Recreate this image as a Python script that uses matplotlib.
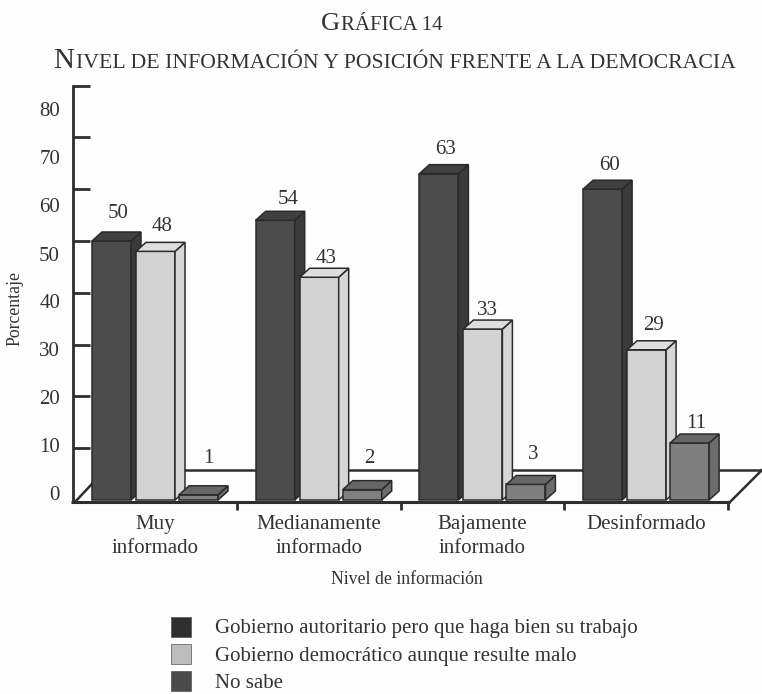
import matplotlib
matplotlib.use('Agg')
import matplotlib.pyplot as plt
from matplotlib.patches import Rectangle

plt.rcParams['font.family'] = ['Liberation Serif', 'DejaVu Serif']

categories = ['Muy\ninformado', 'Medianamente\ninformado', 'Bajamente\ninformado', 'Desinformado']
autoritario = [50, 54, 63, 60]
democratico = [48, 43, 33, 29]
no_sabe = [1, 2, 3, 11]
y_ticks = [0, 10, 20, 30, 40, 50, 60, 70, 80]
legend_labels = ['Gobierno autoritario pero que haga bien su trabajo',
                 'Gobierno democrático aunque resulte malo',
                 'No sabe']

W, H = 762, 694
X0, Y0 = 92, 500      # pixel of category 0 / value 0
SX, SY = 163.7, 5.18  # pixels per category / per percent
TEXT = '#333333'
LINE = '#2e2e2e'

fig = plt.figure(figsize=(W / 100, H / 100), dpi=100, facecolor='#fefefe')
ax = fig.add_axes([0, 0, 1, 1])
ax.set_xlim(-X0 / SX, (W - X0) / SX)
ax.set_ylim((Y0 - H) / SY, Y0 / SY)
ax.axis('off')


def dx(px):
    return px / SX


def dy(px):
    return px / SY


# walls and floor
floor_front = dy(-2)
floor_back = dy(30)
ax.plot([dx(-21), dx(638)], [floor_front, floor_front], color=LINE, lw=2.2, zorder=1, solid_capstyle='butt')
ax.plot([dx(638), dx(670)], [floor_front, floor_back], color=LINE, lw=1.8, zorder=1)
ax.plot([dx(13), dx(670)], [floor_back, floor_back], color=LINE, lw=1.8, zorder=1)
ax.plot([dx(-17), dx(13)], [floor_front, floor_back], color=LINE, lw=1.8, zorder=1)
ax.plot([dx(-19), dx(-19)], [floor_front, 80], color=LINE, lw=2.0, zorder=1)
for v in y_ticks:
    if v > 0:
        ax.plot([dx(-19), dx(-2)], [v, v], color=LINE, lw=2.0, zorder=1, solid_capstyle='butt')
    # the printed labels sit on their own, tighter scale
    ax.text(dx(-32), dy(4) + v * 4.8 / SY, str(v), ha='right', va='center', fontsize=15, color=TEXT)
for i in range(len(categories)):
    tx = i + dx(145)
    ax.plot([tx, tx], [floor_front, dy(-10)], color=LINE, lw=2.0, zorder=1, solid_capstyle='butt')
    ax.text(i + dx(63), dy(-15), categories[i], ha='center', va='top', fontsize=15,
            color=TEXT, linespacing=1.38)

series = [
    (autoritario, 0, '#4c4c4c', '#3a3a3a', '#404040', [27, 21, 24, 24], [7, 13, 7, 7]),
    (democratico, 44, '#d2d2d2', '#d6d6d6', '#dedede', [25, 19, 19, 24], [7, 7, 5, 7]),
    (no_sabe, 87, '#7f7f7f', '#6c6c6c', '#666666', [36, 31, 30, 20], [10, 7, 7, 7]),
]
bar_w = dx(39)
depth_x = dx(10)
depth_y = dy(9)
for i in range(len(categories)):
    for values, off, front, side, top, lab_y, lab_x in series:
        v = values[i]
        x = i + dx(off)
        ax.bar(x, v, width=bar_w, align='edge', color=front, edgecolor='#2a2a2a', lw=1.1, zorder=3)
        ax.fill([x + bar_w, x + bar_w + depth_x, x + bar_w + depth_x, x + bar_w],
                [0, depth_y, v + depth_y, v], facecolor=side, edgecolor='#2a2a2a', lw=1.1, zorder=3)
        ax.fill([x, x + depth_x, x + bar_w + depth_x, x + bar_w],
                [v, v + depth_y, v + depth_y, v], facecolor=top, edgecolor='#2a2a2a', lw=1.1, zorder=3)
        ax.text(x + bar_w / 2 + dx(lab_x[i]), v + dy(lab_y[i]), str(v), ha='center', va='center',
                fontsize=15, color=TEXT, zorder=4)

ax.text(dx(315), dy(-80), 'Nivel de información', ha='center', va='center', fontsize=12.8, color=TEXT)
ax.text(dx(-77), dy(191), 'Porcentaje', ha='center', va='center', rotation=90, fontsize=12.8, color=TEXT)

# legend
swatches = ['#2f2f2f', '#bdbdbd', '#4a4a4a']
for k, label in enumerate(legend_labels):
    top_px = 617 + 27 * k
    fig.add_artist(Rectangle((171 / W, 1 - (top_px + 20) / H), 20 / W, 20 / H, transform=fig.transFigure,
                             facecolor=swatches[k], edgecolor='#555555', lw=0.5))
    fig.text(215 / W, 1 - (top_px + 12) / H, label, ha='left', va='center', fontsize=15, color=TEXT)

# small caps titles: bigger first letter
renderer = fig.canvas.get_renderer()


def small_caps(first, rest, cx, y_px, big, small):
    a = fig.text(0, 1 - y_px / H, first, ha='left', va='baseline', fontsize=big, color=TEXT)
    b = fig.text(0, 1 - y_px / H, rest, ha='left', va='baseline', fontsize=small, color=TEXT)
    w1 = a.get_window_extent(renderer).width
    w2 = b.get_window_extent(renderer).width
    left = cx - (w1 + w2) / 2
    a.set_x(left / W)
    b.set_x((left + w1 + 1) / W)


small_caps('G', 'RÁFICA 14', 381, 30, 19, 15)
small_caps('N', 'IVEL DE INFORMACIÓN Y POSICIÓN FRENTE A LA DEMOCRACIA', 394, 68, 21, 15.7)

fig.savefig('out.png', dpi=100, facecolor=fig.get_facecolor())
